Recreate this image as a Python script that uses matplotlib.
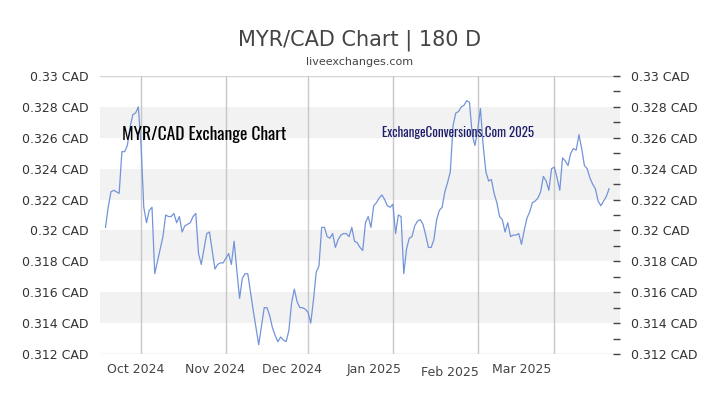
import pandas as pd
import matplotlib
matplotlib.use("Agg")
import matplotlib.pyplot as plt
from matplotlib.ticker import MultipleLocator, FuncFormatter
from matplotlib.transforms import blended_transform_factory

# daily MYR/CAD rate, 2024-09-18 .. 2025-03-21
sep = [0.3202, 0.3215, 0.3225, 0.3226, 0.3225, 0.3224, 0.3251, 0.3251, 0.3255, 0.3267,
       0.3275, 0.3276, 0.3280]
octo = [0.3255, 0.3215, 0.3205, 0.3213, 0.3215, 0.3172, 0.3180, 0.3188, 0.3196, 0.3210,
        0.3209, 0.3209, 0.3211, 0.3205, 0.3209, 0.3199, 0.3203, 0.3204, 0.3205, 0.3209,
        0.3211, 0.3185, 0.3178, 0.3188, 0.3198, 0.3199, 0.3187, 0.3175, 0.3178, 0.3179,
        0.3179]
nov = [0.3182, 0.3185, 0.3178, 0.3193, 0.3174, 0.3156, 0.3169, 0.3172, 0.3172, 0.3160,
       0.3148, 0.3137, 0.3126, 0.3138, 0.3150, 0.3150, 0.3145, 0.3137, 0.3132, 0.3128,
       0.3131, 0.3129, 0.3128, 0.3135, 0.3153, 0.3162, 0.3154, 0.3150, 0.3150, 0.3149]
dec = [0.3147, 0.3140, 0.3155, 0.3173, 0.3177, 0.3202, 0.3202, 0.3196, 0.3195, 0.3198,
       0.3189, 0.3194, 0.3197, 0.3198, 0.3198, 0.3196, 0.3202, 0.3193, 0.3192, 0.3189,
       0.3187, 0.3205, 0.3209, 0.3202, 0.3216, 0.3218, 0.3221, 0.3223, 0.3220, 0.3216,
       0.3215]
jan = [0.3217, 0.3198, 0.3210, 0.3209, 0.3172, 0.3188, 0.3195, 0.3196, 0.3203, 0.3206,
       0.3207, 0.3204, 0.3197, 0.3189, 0.3189, 0.3194, 0.3207, 0.3213, 0.3215, 0.3225,
       0.3231, 0.3238, 0.3268, 0.3276, 0.3277, 0.3280, 0.3281, 0.3284, 0.3283, 0.3262,
       0.3255]
feb = [0.3265, 0.3279, 0.3255, 0.3238, 0.3232, 0.3233, 0.3224, 0.3218, 0.3209, 0.3207,
       0.3199, 0.3205, 0.3196, 0.3197, 0.3197, 0.3198, 0.3191, 0.3200, 0.3208, 0.3212,
       0.3218, 0.3219, 0.3221, 0.3225, 0.3235, 0.3232, 0.3226, 0.3240]
mar = [0.3241, 0.3234, 0.3226, 0.3247, 0.3245, 0.3242, 0.3250, 0.3253, 0.3252, 0.3262,
       0.3253, 0.3242, 0.3240, 0.3234, 0.3230, 0.3227, 0.3219, 0.3216, 0.3219, 0.3222,
       0.3227]

rates = sep + octo + nov + dec + jan + feb + mar
dates = pd.date_range("2024-09-18", periods=len(rates), freq="D")

month_starts = pd.to_datetime(["2024-10-01", "2024-11-01", "2024-12-01",
                               "2025-01-01", "2025-02-01", "2025-03-01"])
month_labels = ["Oct 2024", "Nov 2024", "Dec 2024", "Jan 2025", "Feb 2025", "Mar 2025"]
label_dates = pd.to_datetime(["2024-09-29", "2024-10-28", "2024-11-25",
                              "2024-12-25", "2025-01-22", "2025-02-17"])

narrow = ["Oswald", "Antonio", "Archivo Narrow", "DejaVu Sans"]

fig = plt.figure(figsize=(7.2, 4.05), dpi=100)
ax = fig.add_axes([100/720, 51/405, 520/720, 278/405])

ax.set_xlim(pd.Timestamp("2024-09-16"), pd.Timestamp("2025-03-25"))
ax.set_ylim(0.312, 0.33)

for lo in [0.314, 0.318, 0.322, 0.326]:
    ax.axhspan(lo, lo + 0.002, color="#f2f2f2", zorder=0, lw=0)
ax.axhline(0.33, color="#d4d4d4", lw=1, zorder=1)
ax.axhline(0.312, color="#d4d4d4", lw=1, zorder=1)
for m in month_starts:
    ax.axvline(m, color="#c8c8c8", lw=1, zorder=1)

ax.plot(dates, rates, color="#7394d9", lw=0.9, zorder=3)

for s in ax.spines.values():
    s.set_visible(False)

fmt = FuncFormatter(lambda v, p: f"{round(v, 3):g} CAD")
ax.yaxis.set_major_locator(MultipleLocator(0.002))
ax.yaxis.set_major_formatter(fmt)
ax.tick_params(axis="y", length=0, pad=8, labelsize=9, labelcolor="#333333")
ax.set_xticks([])

ax2 = ax.twinx()
ax2.set_ylim(0.312, 0.33)
for s in ax2.spines.values():
    s.set_visible(False)
ax2.yaxis.set_major_locator(MultipleLocator(0.002))
ax2.yaxis.set_minor_locator(MultipleLocator(0.001))
ax2.yaxis.set_major_formatter(fmt)
ax2.tick_params(axis="y", which="both", direction="in", length=5, width=1,
                color="#444444", pad=8, labelsize=9, labelcolor="#333333")

trans = blended_transform_factory(ax.transData, ax.transAxes)
for d, lab in zip(label_dates, month_labels):
    y = -0.065 if lab == "Feb 2025" else -0.054
    ax.text(d, y, lab, transform=trans, ha="center", va="center",
            fontsize=9, color="#444444")

ax.text(0.042, 0.791, "MYR/CAD Exchange Chart", transform=ax.transAxes,
        ha="left", va="center", fontsize=12.6, fontweight="medium", color="black",
        family=narrow, zorder=4)
ax.text(0.542, 0.795, "ExchangeConversions.Com 2025", transform=ax.transAxes,
        ha="left", va="center", fontsize=9.3, fontweight="medium", color="#1c1c6b",
        family=narrow, zorder=4)

fig.text(0.5, 1 - 40/405, "MYR/CAD Chart | 180 D", ha="center", va="center",
         fontsize=15, color="#444444")
fig.text(0.5, 1 - 62/405, "liveexchanges.com", ha="center", va="center",
         fontsize=8, color="#444444")

fig.savefig("out.png", dpi=100)
